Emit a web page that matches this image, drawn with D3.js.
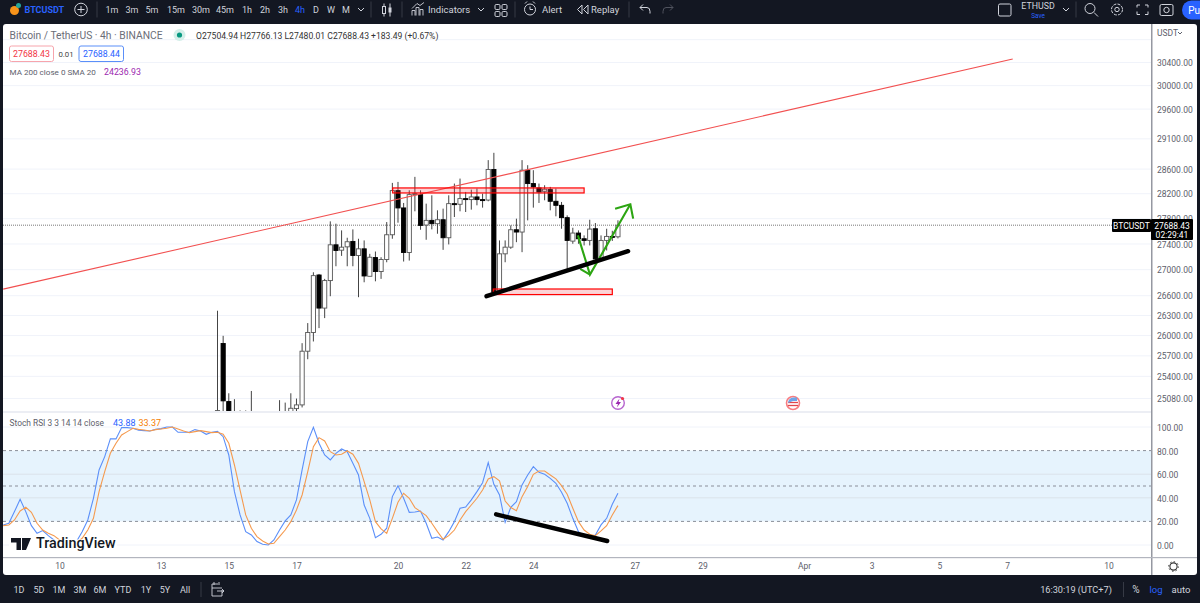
<!DOCTYPE html>
<html><head><meta charset="utf-8">
<script src="https://cdn.jsdelivr.net/npm/d3@7"></script>
<style>
html,body{margin:0;padding:0;background:#131722;overflow:hidden}
svg{display:block}
text{font-family:Roboto,"Open Sans",sans-serif}
</style></head><body>
<svg id="c" width="1200" height="603"></svg>
<script>
// ---- data ----
const firstCandleBar = 38;
const opens = [24600,25875,25029,24800,24600,24700,24700,24500,24500,24500,24500,24500,24500,24860,24928,24981,25761,26039,26910,26405,26824,27379,27295,27347,27432,27212,27316,26890,27180,26963,27149,27537,28242,27963,27259,28177,28177,27691,27765,27712,27775,27490,28032,28022,28113,28097,28140,28097,28090,28585,26645,27238,27342,27616,27580,28574,28356,28285,28231,28258,28070,28005,27808,27437,27564,27474,27448,27632,27159,27448,27511,27504.94];
const highs = [26365,25989,25148,25063,24902,24902,25181,24600,24600,24600,24700,25049,25014,25148,25072,25880,26179,26952,26926,26850,27749,27712,27606,27490,27622,27474,27448,27238,27274,27185,27738,28367,28383,28043,28247,28465,28247,28032,28166,27925,27952,28166,28356,28437,28220,28258,28275,28193,28739,28860,27448,27448,27685,27792,28739,28656,28574,28356,28329,28302,28275,28059,27845,27648,27606,27527,27775,27722,27527,27632,27600,27766.13];
const lows = [24400,24700,24600,24500,24400,24400,24400,24300,24300,24300,24300,24300,24300,24600,24830,24945,25643,25905,26104,26254,26585,27045,27206,27045,27045,26570,26798,26890,26813,26850,27107,27474,27728,27118,27133,27909,27616,27458,27622,27553,27300,27385,27818,27909,27898,27936,28005,27968,28070,26620,26695,27107,27316,27420,27264,27765,27968,28043,28086,27925,27829,27632,27005,27395,27395,27369,27369,27107,27133,27290,27440,27480.01];
const closes = [24900,25039,24800,24700,24700,24650,24650,24550,24550,24550,24550,24450,24450,24933,24981,25761,26039,26900,26405,26824,27379,27290,27342,27427,27212,27316,26895,27185,26963,27149,27537,28242,27963,27259,28177,28193,27685,27765,27712,27775,27490,28032,28022,28113,28105,28140,28097,28090,28585,26645,27238,27342,27616,27580,28574,28356,28302,28220,28264,28070,28005,27808,27448,27564,27474,27448,27627,27159,27448,27511,27504.94,27688.43];
const stochK = [17,18.4,28.3,38.7,28.3,16.4,9.9,12.2,7.9,4.3,2,1,2,2.9,11.3,21.2,39.6,63.6,74.9,89.9,89.9,99.5,99.5,98.9,97.2,96.9,96.6,98,98.6,100,100,95.5,95.5,95.5,97.8,96.6,93.8,95.5,96.4,91.8,76.3,45.2,25.5,11.3,8.5,2.9,0.6,0,4.3,12.7,20.4,25.5,38.2,63.6,87.6,99.7,86.2,76.3,72.1,77.7,81.4,79.1,69.2,59.3,33.9,22.6,6.2,9.1,14.2,41,50.3,39.6,27.7,28,28.8,18.4,5.7,6.8,4.3,11.3,19.8,31.1,32.2,38.2,45.2,52.8,69.8,51.4,42.4,19.2,31.9,36.7,50.9,59.3,66.4,61.6,59.9,56.5,52.3,44.7,35.3,22.6,11.3,7.1,6.2,8.5,17,22.6,34.5,43.88];
const stochD = [16.4,17,21.2,28.8,32,27.7,18.4,12.7,9.9,7.9,4.3,2,1,2,5.7,12.7,22.6,45.2,62.2,77.7,86.2,93.2,96.1,98.9,98,97.5,96.6,97.8,98.3,98.9,100,98.3,96.6,95.2,96.1,96.9,96.1,95.2,95.5,93.8,86.2,67.8,46.6,25.5,14.2,7.1,3.4,0.9,1.4,7.1,12.7,19.8,29.7,42.4,62.2,83.4,91,88.2,79.1,76.3,76.9,79.7,76.9,69.2,53.7,38.2,19.8,13.6,9.9,22.6,36.2,43.8,39.6,31.7,28.3,24.9,18.4,11.3,4.8,7.9,12.7,21.2,28.3,33.9,39.6,46.6,56,57.9,54.3,37.3,31.7,29.1,41,49.5,59.9,62.7,62.7,59.3,56,50.3,43,31.1,19.8,12.7,9.1,7.9,11.9,16.4,25.5,33.37];
const priceTicks = [30800,30400,30000,29600,29100,28600,28200,27800,27400,27000,26600,26300,26000,25700,25400,25080];
const rsiTicks = [100,80,60,40,20,0];
const rsiGrid = [100,60,40,0];
const rsiDashed = [80,50,20];
const dayLabels = [["10",10],["13",28],["15",40],["17",52],["20",70],["22",82],["24",94],["27",112],["29",124],["Apr",142],["3",154],["5",166],["7",178],["10",196]];
const lastPrice = 27688.43;
// drawings, as [bar, value]
const trendRed = [[0,26693],[179,30452]];
const zoneTop = [[69.06,28285],[103,28204]];
const zoneBottom = [[86.9,26695],[108,26610]];
const trendBlack = [[85.7,26585],[110.8,27280]];
const arrowGreen = [[101.9,27527],[104.04,26916],[111.2,28021]];
const arrowGreenHead = [[108.5,27950],[111.2,28021],[111.7,27792]];
const arrowGreenDown = [[102.3,27005],[104.04,26916]];
const rsiBlack = [[87.4,26],[107.1,3.4]];
const topFrames = [["1m",112],["3m",132],["5m",152],["15m",176],["30m",201],["45m",225],["1h",247],["2h",265],["3h",283],["4h",300],["D",316],["W",331],["M",346]];
const rangeLabels = [["1D",19],["5D",39],["1M",59],["3M",80],["6M",100],["YTD",123],["1Y",146],["5Y",165],["All",185]];

// ---- scales ----
const x = d3.scaleLinear().domain([0,196]).range([3.2,1108.6]);
const y = d3.scaleLog().domain([30400,25080]).range([62,398]);
const r = d3.scaleLinear().domain([100,0]).range([427,545]);

const svg = d3.select("#c");
const defs = svg.append("defs");
defs.append("clipPath").attr("id","pc").append("rect").attr("x",3).attr("y",24).attr("width",1148).attr("height",387);
defs.append("clipPath").attr("id","rc").append("rect").attr("x",3).attr("y",413).attr("width",1148).attr("height",144);

const DARK="#131722", GRID="#f0f3fa", TXT="#5d606b", LT="#d1d4dc";
svg.append("rect").attr("width",1200).attr("height",603).attr("fill",DARK);
svg.append("rect").attr("x",3).attr("y",24).attr("width",1194).attr("height",551).attr("rx",3).attr("fill","#fff");

// ---- price pane ----
const price = svg.append("g").attr("clip-path","url(#pc)");
price.selectAll(".g").data(priceTicks).join("line")
  .attr("x1",3).attr("x2",1151).attr("y1",d=>y(d)+.5).attr("y2",d=>y(d)+.5)
  .attr("stroke",GRID).attr("stroke-width",1);
price.append("line").attr("x1",3).attr("x2",1151).attr("y1",y(lastPrice)).attr("y2",y(lastPrice))
  .attr("stroke","#555").attr("stroke-width",.8).attr("stroke-dasharray","1 1");

const candles = opens.map((o,i)=>({bar:firstCandleBar+i,o,h:highs[i],l:lows[i],c:closes[i]}));
const cg = price.append("g");
cg.selectAll("line").data(candles).join("line")
  .attr("x1",d=>x(d.bar)).attr("x2",d=>x(d.bar))
  .attr("y1",d=>y(d.h)).attr("y2",d=>y(d.l))
  .attr("stroke","#444").attr("stroke-width",1);
cg.selectAll("rect").data(candles).join("rect")
  .attr("x",d=>x(d.bar)-2.1).attr("width",4.2)
  .attr("y",d=>y(Math.max(d.o,d.c))).attr("height",d=>Math.max(1,Math.abs(y(d.o)-y(d.c))))
  .attr("fill",d=>d.c>=d.o?"#fff":"#000")
  .attr("stroke",d=>d.c>=d.o?"#555":"#000").attr("stroke-width",.9);

const ln = d3.line().x(d=>x(d[0])).y(d=>y(d[1]));
price.append("path").attr("d",ln(trendRed)).attr("fill","none").attr("stroke","#f25050").attr("stroke-width",1.1);
[zoneTop,zoneBottom].forEach(z=>{
  price.append("rect").attr("x",x(z[0][0])).attr("y",y(z[0][1]))
    .attr("width",x(z[1][0])-x(z[0][0])).attr("height",y(z[1][1])-y(z[0][1]))
    .attr("fill","rgba(242,54,69,.22)").attr("stroke","#f00").attr("stroke-width",1.2);
});
[arrowGreen,arrowGreenHead,arrowGreenDown].forEach(a=>price.append("path").attr("d",ln(a))
  .attr("fill","none").attr("stroke","#2ca512").attr("stroke-width",2.1));
price.append("path").attr("d",ln(trendBlack)).attr("fill","none").attr("stroke","#000").attr("stroke-width",4.4).attr("stroke-linecap","round");

// event icons
const ev = svg.append("g");
ev.append("circle").attr("cx",618).attr("cy",403).attr("r",6.3).attr("fill","#fff").attr("stroke","#b765cf").attr("stroke-width",1.4);
ev.append("path").attr("d","M619.5 398.5 L615.5 404 H618 L616.8 407.5 L621 402 H618.5 Z").attr("fill","#9c27b0");
ev.append("circle").attr("cx",622.5).attr("cy",398.5).attr("r",1.6).attr("fill","#f23645");
ev.append("circle").attr("cx",793).attr("cy",403).attr("r",6.5).attr("fill","#fff").attr("stroke","#f77c80").attr("stroke-width",1.6);
[402.5,405.5].forEach(v=>ev.append("line").attr("x1",788).attr("x2",798).attr("y1",v).attr("y2",v).attr("stroke","#e0474c").attr("stroke-width",1.3));
ev.append("path").attr("d","M788 403 A5.5 5.5 0 0 1 793 397.5 H797 V401 H793 Z").attr("fill","#6fa5e8");

// pane separator
svg.append("rect").attr("x",3).attr("y",411).attr("width",1148).attr("height",2).attr("fill","#eceef4");

// ---- stoch RSI pane ----
const rp = svg.append("g").attr("clip-path","url(#rc)");
rp.append("rect").attr("x",3).attr("width",1148).attr("y",r(80)).attr("height",r(20)-r(80)).attr("fill","#e6f3fd");
rp.selectAll(".g").data(rsiGrid).join("line")
  .attr("x1",3).attr("x2",1151).attr("y1",d=>r(d)).attr("y2",d=>r(d)).attr("stroke",d=>(d==60||d==40)?"#dbe3ea":GRID);
rp.selectAll(".d").data(rsiDashed).join("line")
  .attr("x1",3).attr("x2",1151).attr("y1",d=>r(d)).attr("y2",d=>r(d))
  .attr("stroke","#8a8e99").attr("stroke-dasharray","3 3").attr("stroke-width",1);
const rl = d3.line().x((d,i)=>x(i)).y(d=>r(d));
rp.append("path").attr("d",rl(stochK)).attr("fill","none").attr("stroke","#5b8ff9").attr("stroke-width",1.1);
rp.append("path").attr("d",rl(stochD)).attr("fill","none").attr("stroke","#f59a4f").attr("stroke-width",1.1);
rp.append("path").attr("d",d3.line().x(d=>x(d[0])).y(d=>r(d[1]))(rsiBlack)).attr("fill","none").attr("stroke","#000").attr("stroke-width",4.4).attr("stroke-linecap","round");

// watermark
rp.append("rect").attr("x",9).attr("y",539.5).attr("width",108).attr("height",14).attr("fill","#fff");
rp.append("path").attr("d","M11 538 H21 V550 H16.5 V542.5 H11 Z M22 538 H31 L26 550 H22 Z").attr("fill","#131722");
rp.append("text").attr("x",36).attr("y",548).attr("font-size",14.3).attr("font-weight",500).attr("fill","#131722").text("TradingView");

// ---- right axis, time axis ----
svg.append("rect").attr("x",1151).attr("y",24).attr("width",1.5).attr("height",551).attr("fill","#9598a1");
svg.append("rect").attr("x",3).attr("y",557).attr("width",1194).attr("height",1.2).attr("fill","#b2b5be");

const clean = g=>{g.select(".domain").remove();g.selectAll(".tick line").remove();
  g.selectAll("text").attr("fill",TXT).attr("font-size",8.5).attr("font-family","Roboto");};
svg.append("g").attr("transform","translate(1151,0.8)")
  .call(d3.axisRight(y).tickValues(priceTicks.slice(1)).tickFormat(d3.format(".2f")).tickSize(0).tickPadding(6)).call(clean);
svg.append("g").attr("transform","translate(1151,0.8)")
  .call(d3.axisRight(r).tickValues(rsiTicks).tickFormat(d3.format(".2f")).tickSize(0).tickPadding(6)).call(clean);
svg.append("g").attr("transform","translate(0,559)")
  .call(d3.axisBottom(x).tickValues(dayLabels.map(d=>d[1])).tickFormat(v=>dayLabels.find(d=>d[1]===v)[0]).tickSize(0).tickPadding(4)).call(clean);

// clean strip at top of axis
svg.append("rect").attr("x",1153).attr("y",25).attr("width",43).attr("height",16).attr("fill","#fff");
const axisHead = svg.append("text").attr("x",1157).attr("y",36).attr("font-size",8.5).attr("fill",TXT).text("USDT");
svg.append("path").attr("d","M1178 32 l2 2 l2 -2").attr("fill","none").attr("stroke",TXT);
// axis settings
svg.append("circle").attr("cx",1173.5).attr("cy",566.5).attr("r",3.6).attr("fill","none").attr("stroke","#333").attr("stroke-width",1.1);
svg.append("circle").attr("cx",1173.5).attr("cy",566.5).attr("r",4.8).attr("fill","none").attr("stroke","#333").attr("stroke-width",1).attr("stroke-dasharray","1.5 2.2");

// last price labels
svg.append("rect").attr("x",1112).attr("y",219).attr("width",39).attr("height",13).attr("fill","#000").attr("rx",1);
svg.append("text").attr("x",1131.5).attr("y",228.5).attr("text-anchor","middle").attr("font-size",8.5).attr("fill","#fff").text("BTCUSDT");
svg.append("rect").attr("x",1151).attr("y",219).attr("width",42).attr("height",21).attr("fill","#000").attr("rx",1);
svg.append("text").attr("x",1172).attr("y",228.5).attr("text-anchor","middle").attr("font-size",8.5).attr("fill","#fff").text(lastPrice.toFixed(2));
svg.append("text").attr("x",1172).attr("y",238).attr("text-anchor","middle").attr("font-size",8.5).attr("fill","#fff").text("02:29:41");

// ---- legends ----
const t=(s,xx,yy,fs,fill,extra,host)=>{const e=(host||svg).append("text").attr("x",xx).attr("y",yy).attr("font-size",fs).attr("fill",fill).text(s);if(extra)extra(e);return e;};
t("Bitcoin / TetherUS · 4h · BINANCE",9.5,39,10.3,"#6a6d78");
svg.append("circle").attr("cx",179.5).attr("cy",35).attr("r",6).attr("fill","#d4efe9");
svg.append("circle").attr("cx",179.5).attr("cy",35).attr("r",2.6).attr("fill","#089981");
t("O27504.94  H27766.13  L27480.01  C27688.43  +183.49 (+0.67%)",196,38.5,8.6,"#333");
svg.append("rect").attr("x",9.5).attr("y",46).attr("width",44).attr("height",15.5).attr("rx",2).attr("fill","#fff").attr("stroke","#f7a4ac");
t("27688.43",31.5,57,8.8,"#f23645",e=>e.attr("text-anchor","middle"));
t("0.01",66,57,7.8,"#444",e=>e.attr("text-anchor","middle"));
svg.append("rect").attr("x",79).attr("y",46).attr("width",44.5).attr("height",15.5).attr("rx",2).attr("fill","#fff").attr("stroke","#5b8ff9");
t("27688.44",101.5,57,8.8,"#2962ff",e=>e.attr("text-anchor","middle"));
t("MA 200 close 0 SMA 20",9.5,75,8.1,"#5d606b");
t("24236.93",104,75,8.8,"#9c27b0");
t("Stoch RSI 3 3 14 14 close",9.5,426,8.4,"#5d606b");
t(stochK[stochK.length-1].toFixed(2),113,426,9,"#2962ff");
t(stochD[stochD.length-1].toFixed(2),138.5,426,9,"#f57c00");

// ---- top toolbar ----
const tb = svg.append("g").attr("transform","translate(0,-1.5)");
tb.append("circle").attr("cx",14.5).attr("cy",12).attr("r",4.5).attr("fill","#f7931a");
tb.append("circle").attr("cx",18.5).attr("cy",7).attr("r",2.5).attr("fill","#26a69a");
t("BTCUSDT",24.5,14,9,"#2962ff",e=>e.attr("font-weight",700),tb);
tb.append("circle").attr("cx",81).attr("cy",11).attr("r",6.3).attr("fill","none").attr("stroke",LT);
tb.append("path").attr("d","M81 7.5 V14.5 M77.5 11 H84.5").attr("stroke",LT);
const sep=[97,371,402,515,629,1076];
sep.forEach(v=>tb.append("line").attr("x1",v).attr("x2",v).attr("y1",3).attr("y2",19).attr("stroke","#363a45"));
topFrames.forEach(d=>t(d[0],d[1],14,9,d[0]==="4h"?"#2962ff":LT,e=>e.attr("text-anchor","middle"),tb));
const chev=(cx,cy,c)=>tb.append("path").attr("d",`M${cx-3} ${cy-1.5} l3 3 l3 -3`).attr("fill","none").attr("stroke",c||LT);
chev(361,11);chev(481,11);chev(1066,11);
// candle icon
tb.append("path").attr("d","M384 5 V18 M390 5 V18").attr("stroke",LT);
tb.append("rect").attr("x",382.5).attr("y",8).attr("width",3).attr("height",7).attr("fill",DARK).attr("stroke",LT);
tb.append("rect").attr("x",388.5).attr("y",9).attr("width",3).attr("height",5).attr("fill",LT);
// indicators
tb.append("path").attr("d","M412 17 V12 H415 V17 M416 17 V9 H419 V17 M420 17 V11 H423 V17 M412 10 L417 5 L420 7 L424 4").attr("fill","none").attr("stroke",LT).attr("stroke-width",.9);
t("Indicators",428,14,9.5,LT,null,tb);
// layouts
[[495,6],[502,6],[495,13],[502,13]].forEach(p=>tb.append("rect").attr("x",p[0]).attr("y",p[1]).attr("width",5).attr("height",5).attr("rx",1.2).attr("fill","none").attr("stroke",LT));
// alert
tb.append("circle").attr("cx",530).attr("cy",11).attr("r",5.5).attr("fill","none").attr("stroke",LT);
tb.append("path").attr("d","M530 8 V11 H533 M525 5 L527 3 M535 5 L533 3").attr("fill","none").attr("stroke",LT);
t("Alert",542,14,9.5,LT,null,tb);
// replay
tb.append("path").attr("d","M582 6.5 L577.5 11 L582 15.5 Z M588 6.5 L583.5 11 L588 15.5 Z").attr("fill","none").attr("stroke",LT);
t("Replay",591,14,9.5,LT,null,tb);
// undo/redo
tb.append("path").attr("d","M640 9 H647 Q650 9 650 13 V15 M640 9 l3 -3 M640 9 l3 3").attr("fill","none").attr("stroke",LT);
tb.append("path").attr("d","M673 9 H666 Q663 9 663 13 V15 M673 9 l-3 -3 M673 9 l-3 3").attr("fill","none").attr("stroke","#50535e");
// right part
tb.append("rect").attr("x",998.5).attr("y",5.5).attr("width",12.5).attr("height",12).attr("rx",1.5).attr("fill","none").attr("stroke",LT);
t("ETHUSD",1038,10.5,8.8,LT,e=>e.attr("text-anchor","middle"),tb);
t("Save",1038,19,6.4,"#2962ff",e=>e.attr("text-anchor","middle"),tb);
tb.append("circle").attr("cx",1090).attr("cy",10).attr("r",5).attr("fill","none").attr("stroke",LT);
tb.append("path").attr("d","M1094 14 L1098 18").attr("stroke",LT);
tb.append("circle").attr("cx",1117).attr("cy",11).attr("r",2.2).attr("fill","none").attr("stroke",LT);
tb.append("circle").attr("cx",1117).attr("cy",11).attr("r",5.5).attr("fill","none").attr("stroke",LT).attr("stroke-dasharray","3 1.3");
tb.append("path").attr("d","M1137 9 V6.5 H1140 M1145 6.5 H1148 V9 M1148 13 V16 H1145 M1140 16 H1137 V13").attr("fill","none").attr("stroke",LT);
tb.append("rect").attr("x",1160).attr("y",6).attr("width",13).attr("height",11).attr("rx",1.5).attr("fill","none").attr("stroke",LT);
tb.append("circle").attr("cx",1166.5).attr("cy",11.5).attr("r",2.7).attr("fill","none").attr("stroke",LT);
tb.append("rect").attr("x",1182).attr("y",2).attr("width",30).attr("height",19).attr("rx",9.5).attr("fill","#2962ff");
t("Pu",1200,15,10,"#fff",e=>e.attr("text-anchor","end"),tb);

// ---- bottom toolbar ----
rangeLabels.forEach(d=>t(d[0],d[1],592.5,9,LT,e=>e.attr("text-anchor","middle")));
svg.append("line").attr("x1",201).attr("x2",201).attr("y1",582).attr("y2",597).attr("stroke","#363a45");
svg.append("path").attr("d","M218 584 H212 V596 H222 V590 M212 588 H222 M214 582 V585 M219 582 V585 M217 591 H224 M222 589 l2 2 l-2 2").attr("fill","none").attr("stroke",LT).attr("stroke-width",.9);
t("16:30:19 (UTC+7)",1076,592.5,9.2,LT,e=>e.attr("text-anchor","middle"));
svg.append("line").attr("x1",1123.5).attr("x2",1123.5).attr("y1",582).attr("y2",597).attr("stroke","#363a45");
t("%",1136,592.5,10,LT,e=>e.attr("text-anchor","middle"));
t("log",1156,592.5,9.5,"#2962ff",e=>e.attr("text-anchor","middle"));
t("auto",1181,592.5,9.5,LT,e=>e.attr("text-anchor","middle"));
</script>
</body></html>
